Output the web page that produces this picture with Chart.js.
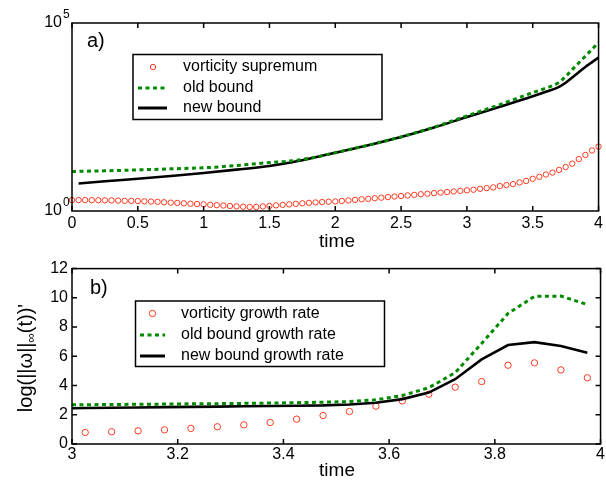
<!DOCTYPE html>
<html>
<head>
<meta charset="utf-8">
<script src="https://cdn.jsdelivr.net/npm/chart.js@4.4.0/dist/chart.umd.min.js"></script>
<style>
  body { margin: 0; background: #fff; }
  .panel { position: absolute; left: 0; width: 606px; }
  #top { top: 0; height: 255px; }
  #bottom { top: 255px; height: 226px; }
</style>
</head>
<body>
<div class="panel" id="top"><canvas id="graph-top"></canvas></div>
<div class="panel" id="bottom"><canvas id="graph-bottom"></canvas></div>
<script>
// panel a) vorticity supremum, one circle every 0.05
const supTime = [
  0, 0.05, 0.1, 0.15, 0.2, 0.25, 0.3, 0.35, 0.4, 0.45,
  0.5, 0.55, 0.6, 0.65, 0.7, 0.75, 0.8, 0.85, 0.9, 0.95,
  1, 1.05, 1.1, 1.15, 1.2, 1.25, 1.3, 1.35, 1.4, 1.45,
  1.5, 1.55, 1.6, 1.65, 1.7, 1.75, 1.8, 1.85, 1.9, 1.95,
  2, 2.05, 2.1, 2.15, 2.2, 2.25, 2.3, 2.35, 2.4, 2.45,
  2.5, 2.55, 2.6, 2.65, 2.7, 2.75, 2.8, 2.85, 2.9, 2.95,
  3, 3.05, 3.1, 3.15, 3.2, 3.25, 3.3, 3.35, 3.4, 3.45,
  3.5, 3.55, 3.6, 3.65, 3.7, 3.75, 3.8, 3.85, 3.9, 3.95, 4
];
const supValues = [
  1.95, 1.95, 1.95, 1.94, 1.93, 1.92, 1.91, 1.89, 1.87, 1.86,
  1.84, 1.81, 1.78, 1.75, 1.71, 1.67, 1.64, 1.60, 1.56, 1.53,
  1.50, 1.46, 1.43, 1.40, 1.36, 1.33, 1.30, 1.28, 1.28, 1.32,
  1.36, 1.41, 1.45, 1.50, 1.55, 1.60, 1.65, 1.69, 1.73, 1.77,
  1.80, 1.85, 1.91, 1.98, 2.04, 2.11, 2.19, 2.26, 2.34, 2.43,
  2.51, 2.60, 2.69, 2.79, 2.88, 2.99, 3.09, 3.20, 3.31, 3.43,
  3.55, 3.67, 3.89, 4.07, 4.23, 4.60, 4.90, 5.19, 5.75, 6.31,
  7.19, 8.13, 9.33, 10.5, 12.4, 14.8, 18.2, 24.0, 30.9, 40.7, 51.6
];
// panel a) bounds
const boundTime = [0, 0.05, 0.25, 0.5, 0.75, 1, 1.25, 1.5, 1.625, 1.75, 1.875, 2, 2.25, 2.5, 2.75, 3, 3.25, 3.5, 3.6, 3.7, 3.75, 3.8, 3.9, 4];
const oldBound = [11.2, 11.35, 11.7, 12.4, 13.2, 14.1, 16.2, 19.5, 20.9, 23.4, 28.2, 35.5, 56.2, 93.3, 170, 339, 676, 1413, 1862, 2630, 3802, 5754, 13183, 30200];
const newBound = [null, 5.37, 6.17, 7.19, 8.51, 10.2, 12.6, 15.8, 18.6, 22.4, 28.2, 35.5, 56.2, 93.3, 166, 316, 589, 1122, 1480, 1995, 2570, 3548, 6761, 12023];
const topXTicks = [0, 0.5, 1, 1.5, 2, 2.5, 3, 3.5, 4];
const topYTicks = [1, 100000];
const topYExp = ["0", "5"];

// panel b) growth rates
const rateTime = [3.025, 3.075, 3.125, 3.175, 3.225, 3.275, 3.325, 3.375, 3.425, 3.475,
  3.525, 3.575, 3.625, 3.675, 3.725, 3.775, 3.825, 3.875, 3.925, 3.975];
const rateValues = [0.79, 0.84, 0.90, 0.97, 1.07, 1.18, 1.31, 1.47, 1.70, 1.95,
  2.22, 2.59, 2.95, 3.41, 3.89, 4.27, 5.39, 5.55, 5.07, 4.53];
const rateBoundTime = [3.0, 3.025, 3.075, 3.125, 3.175, 3.225, 3.275, 3.325, 3.375, 3.425, 3.475,
  3.525, 3.575, 3.625, 3.675, 3.725, 3.775, 3.825, 3.875, 3.925, 3.975];
const oldRate = [2.68, 2.69, 2.70, 2.72, 2.73, 2.75, 2.76, 2.78, 2.80, 2.83, 2.86,
  2.90, 3.02, 3.32, 3.85, 4.88, 6.88, 8.93, 10.1, 10.12, 9.54];
const newRate = [2.45, 2.46, 2.48, 2.50, 2.52, 2.54, 2.56, 2.58, 2.60, 2.62, 2.64,
  2.70, 2.82, 3.07, 3.52, 4.43, 5.79, 6.77, 6.97, 6.70, 6.24];

const red = "#ff3a1f";
const green = "#008a00";
const FONT = "'Liberation Sans', Arial, Helvetica, sans-serif";

Chart.defaults.color = "#000";
Chart.defaults.font.family = FONT;
Chart.defaults.font.size = 16;

function pts(xs, ys) {
  return xs.map((x, i) => ({ x: x, y: ys[i] }));
}

function drawRotatedTitle(ctx, parts, cx, cy) {
  ctx.save();
  ctx.translate(cx, cy);
  ctx.rotate(-Math.PI / 2);
  ctx.textBaseline = "middle";
  ctx.textAlign = "left";
  let total = 0;
  parts.forEach((p) => {
    ctx.font = p.font;
    p.w = ctx.measureText(p.text).width;
    total += p.w;
  });
  let x = -total / 2;
  parts.forEach((p) => {
    ctx.font = p.font;
    ctx.fillText(p.text, x, p.dy || 0);
    x += p.w;
  });
  ctx.restore();
}

// box, inward ticks, legend and labels in matlab style
const decorPlugin = {
  id: "decor",
  afterDraw(chart, args, opts) {
    const ctx = chart.ctx;
    const a = chart.chartArea;
    const xs = chart.scales.x;
    const ys = chart.scales.y;
    ctx.save();
    ctx.strokeStyle = "#000";
    ctx.lineWidth = 1.5;
    ctx.beginPath();
    xs.ticks.forEach((t) => {
      const px = xs.getPixelForValue(t.value);
      ctx.moveTo(px, a.bottom);
      ctx.lineTo(px, a.bottom - 5);
      ctx.moveTo(px, a.top);
      ctx.lineTo(px, a.top + 5);
    });
    if (opts.yTicks) {
      ys.ticks.forEach((t) => {
        const py = ys.getPixelForValue(t.value);
        ctx.moveTo(a.left, py);
        ctx.lineTo(a.left + 5, py);
        ctx.moveTo(a.right, py);
        ctx.lineTo(a.right - 5, py);
      });
    }
    ctx.stroke();
    ctx.strokeRect(a.left, a.top, a.right - a.left, a.bottom - a.top);

    // exponents of the log tick labels
    if (opts.exponents) {
      ctx.fillStyle = "#000";
      ctx.font = "12px " + FONT;
      ctx.textAlign = "left";
      ctx.textBaseline = "middle";
      ys.ticks.forEach((t, i) => {
        const py = ys.getPixelForValue(t.value);
        ctx.fillText(opts.exponents[i], a.left - 9, py - 8);
      });
    }

    // legend
    const lg = opts.legend;
    ctx.fillStyle = "#fff";
    ctx.fillRect(lg.x, lg.y, lg.w, lg.h);
    ctx.lineWidth = 1.5;
    ctx.strokeRect(lg.x, lg.y, lg.w, lg.h);
    ctx.font = "16px " + FONT;
    ctx.textBaseline = "middle";
    ctx.textAlign = "left";
    lg.rows.forEach((r) => {
      if (r.kind === "circle") {
        ctx.beginPath();
        ctx.lineWidth = 1;
        ctx.strokeStyle = red;
        ctx.arc(lg.markX, r.y, r.radius, 0, Math.PI * 2);
        ctx.stroke();
      } else {
        ctx.beginPath();
        ctx.lineWidth = 3;
        ctx.strokeStyle = r.kind === "dash" ? green : "#000";
        ctx.setLineDash(r.kind === "dash" ? [4, 3.5] : []);
        ctx.moveTo(lg.lineX0, r.y);
        ctx.lineTo(lg.lineX1, r.y);
        ctx.stroke();
        ctx.setLineDash([]);
      }
      ctx.fillStyle = "#000";
      ctx.fillText(r.text, lg.textX, r.y);
    });

    // panel letter
    ctx.font = "20px " + FONT;
    ctx.fillText(opts.panel.text, opts.panel.x, opts.panel.y);

    // x title
    ctx.font = "19px " + FONT;
    ctx.textAlign = "center";
    ctx.fillText("time", opts.xTitle.x, opts.xTitle.y);
    ctx.restore();

    drawRotatedTitle(ctx, opts.yTitle.parts, opts.yTitle.x, opts.yTitle.y);
  },
};

const mainFont = "20px " + FONT;
const subFont = "13px " + FONT;

const topChart = new Chart(document.getElementById("graph-top"), {
  type: "line",
  data: {
    datasets: [
      {
        label: "old bound",
        data: pts(boundTime, oldBound),
        borderColor: green,
        borderWidth: 3,
        borderDash: [4, 3.5],
        pointRadius: 0,
        cubicInterpolationMode: "monotone",
        fill: false,
      },
      {
        label: "new bound",
        data: pts(boundTime, newBound),
        borderColor: "#000",
        borderWidth: 2.6,
        pointRadius: 0,
        cubicInterpolationMode: "monotone",
        fill: false,
      },
      {
        label: "vorticity supremum",
        data: pts(supTime, supValues),
        showLine: false,
        pointStyle: "circle",
        pointRadius: 2.7,
        pointBorderWidth: 1,
        pointBorderColor: red,
        pointBackgroundColor: "rgba(0,0,0,0)",
        clip: false,
      },
    ],
  },
  options: {
    animation: false,
    responsive: true,
    maintainAspectRatio: false,
    layout: { padding: { top: 23, right: 4, left: 0, bottom: 0 } },
    scales: {
      x: {
        type: "linear",
        min: 0,
        max: 4,
        afterBuildTicks: (s) => { s.ticks = topXTicks.map((v) => ({ value: v })); },
        afterFit: (s) => { s.height = 44; },
        grid: { display: false, drawTicks: false },
        border: { display: false },
        ticks: { padding: 3, maxRotation: 0, callback: (v) => String(v) },
      },
      y: {
        type: "logarithmic",
        min: 1,
        max: 100000,
        afterBuildTicks: (s) => { s.ticks = topYTicks.map((v) => ({ value: v })); },
        afterFit: (s) => { s.width = 72; },
        grid: { display: false, drawTicks: false },
        border: { display: false },
        ticks: { padding: 10, callback: () => "10" },
      },
    },
    plugins: {
      legend: { display: false },
      tooltip: { enabled: false },
      decor: {
        yTicks: false,
        exponents: topYExp,
        legend: {
          x: 133, y: 54.5, w: 249, h: 65,
          markX: 153, lineX0: 138, lineX1: 167, textX: 183,
          rows: [
            { kind: "circle", radius: 2.7, y: 67, text: "vorticity supremum" },
            { kind: "dash", y: 88, text: "old bound" },
            { kind: "line", y: 108, text: "new bound" },
          ],
        },
        panel: { text: "a)", x: 87, y: 41 },
        xTitle: { x: 337, y: 242 },
        yTitle: {
          x: 22, y: 121,
          parts: [
            { text: "||\u03c9||", font: mainFont },
            { text: "\u221e", font: subFont, dy: 5 },
            { text: "(t)", font: mainFont },
          ],
        },
      },
    },
  },
  plugins: [decorPlugin],
});

const bottomChart = new Chart(document.getElementById("graph-bottom"), {
  type: "line",
  data: {
    datasets: [
      {
        label: "old bound growth rate",
        data: pts(rateBoundTime, oldRate),
        borderColor: green,
        borderWidth: 3,
        borderDash: [4, 3.5],
        pointRadius: 0,
        tension: 0,
        fill: false,
      },
      {
        label: "new bound growth rate",
        data: pts(rateBoundTime, newRate),
        borderColor: "#000",
        borderWidth: 2.6,
        pointRadius: 0,
        tension: 0,
        fill: false,
      },
      {
        label: "vorticity growth rate",
        data: pts(rateTime, rateValues),
        showLine: false,
        pointStyle: "circle",
        pointRadius: 3.2,
        pointBorderWidth: 1,
        pointBorderColor: red,
        pointBackgroundColor: "rgba(0,0,0,0)",
      },
    ],
  },
  options: {
    animation: false,
    responsive: true,
    maintainAspectRatio: false,
    layout: { padding: { top: 13, right: 5, left: 0, bottom: 0 } },
    scales: {
      x: {
        type: "linear",
        min: 3,
        max: 4,
        ticks: { stepSize: 0.2, padding: 1, maxRotation: 0, callback: (v) => String(+v.toFixed(1)) },
        afterFit: (s) => { s.height = 37; },
        grid: { display: false, drawTicks: false },
        border: { display: false },
      },
      y: {
        min: 0,
        max: 12,
        ticks: { stepSize: 2, padding: 4 },
        afterFit: (s) => { s.width = 72; },
        grid: { display: false, drawTicks: false },
        border: { display: false },
      },
    },
    plugins: {
      legend: { display: false },
      tooltip: { enabled: false },
      decor: {
        yTicks: true,
        legend: {
          x: 135.5, y: 46, w: 249, h: 65.5,
          markX: 152.5, lineX0: 140, lineX1: 165, textX: 181,
          rows: [
            { kind: "circle", radius: 3.2, y: 58.5, text: "vorticity growth rate" },
            { kind: "dash", y: 80, text: "old bound growth rate" },
            { kind: "line", y: 101, text: "new bound growth rate" },
          ],
        },
        panel: { text: "b)", x: 90, y: 33 },
        xTitle: { x: 337, y: 216 },
        yTitle: {
          x: 26, y: 103,
          parts: [
            { text: "log(||\u03c9||", font: mainFont },
            { text: "\u221e", font: subFont, dy: 5 },
            { text: "(t))'", font: mainFont },
          ],
        },
      },
    },
  },
  plugins: [decorPlugin],
});
</script>
</body>
</html>
